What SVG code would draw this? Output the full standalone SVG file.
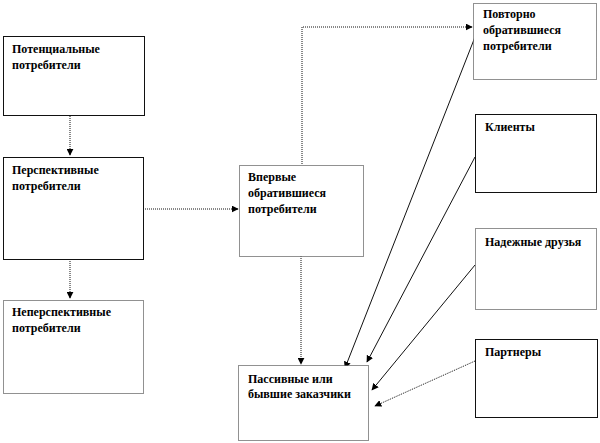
<svg xmlns="http://www.w3.org/2000/svg" width="600" height="443" viewBox="0 0 600 443">
<style>
.box{fill:#fff;stroke:#111;stroke-width:1}
.dot{fill:#fff;stroke:#222;stroke-width:1;stroke-dasharray:1 1}
.t{font-family:'Liberation Serif','Times New Roman','DejaVu Serif',serif;font-weight:bold;font-size:12px;fill:#000}
.c{fill:none;stroke:#111;stroke-width:1;stroke-dasharray:1 1}
.s{fill:none;stroke:#111;stroke-width:1}
</style>
<defs>
<marker id="ah" viewBox="0 0 10 10" refX="9" refY="5" markerWidth="7" markerHeight="7" orient="auto" markerUnits="userSpaceOnUse">
<path d="M0,0 L10,5 L0,10 z" fill="#000"/>
</marker>
</defs>
<rect width="600" height="443" fill="#fff"/>
<g id="connectors">
<path class="c" d="M70,116 V155" marker-end="url(#ah)"/>
<path class="c" d="M70,259 V298" marker-end="url(#ah)"/>
<path class="c" d="M143,209 H238" marker-end="url(#ah)"/>
<path class="c" d="M301,256 V364" marker-end="url(#ah)"/>
<path class="c" d="M302,164 V27 H472" marker-end="url(#ah)"/>
<path class="s" d="M475,37 L345,368" marker-end="url(#ah)"/>
<path class="s" d="M475,157 L367,362" marker-end="url(#ah)"/>
<path class="s" d="M475,265 L372,390" marker-end="url(#ah)"/>
<path class="c" d="M475,361 L375,406" marker-end="url(#ah)"/>
</g>
<g id="n1"><rect class="box" x="3.5" y="36.5" width="141" height="79"/>
<text class="t" x="12" y="53">Потенциальные</text><text class="t" x="12" y="69">потребители</text></g>
<g id="n2"><rect class="box" x="3.5" y="157.5" width="140" height="102"/>
<text class="t" x="12" y="174">Перспективные</text><text class="t" x="12" y="190">потребители</text></g>
<g id="n3"><rect class="dot" x="3.5" y="300.5" width="140" height="93"/>
<text class="t" x="12" y="316">Неперспективные</text><text class="t" x="12" y="332">потребители</text></g>
<g id="n4"><rect class="dot" x="239.5" y="165.5" width="124" height="91"/>
<text class="t" x="248" y="181">Впервые</text><text class="t" x="248" y="197">обратившиеся</text><text class="t" x="248" y="213">потребители</text></g>
<g id="n5"><rect class="dot" x="238.5" y="365.5" width="130" height="75"/>
<text class="t" x="248" y="383">Пассивные или</text><text class="t" x="248" y="398">бывшие заказчики</text></g>
<g id="n6"><rect class="dot" x="473.5" y="3.5" width="123" height="76"/>
<text class="t" x="483" y="18">Повторно</text><text class="t" x="483" y="34">обратившиеся</text><text class="t" x="483" y="50">потребители</text></g>
<g id="n7"><rect class="box" x="475.5" y="114.5" width="121" height="78"/>
<text class="t" x="485" y="131">Клиенты</text></g>
<g id="n8"><rect class="dot" x="475.5" y="228.5" width="121" height="81"/>
<text class="t" x="485" y="246">Надежные друзья</text></g>
<g id="n9"><rect class="box" x="475.5" y="339.5" width="122" height="78"/>
<text class="t" x="485" y="356">Партнеры</text></g>
</svg>
